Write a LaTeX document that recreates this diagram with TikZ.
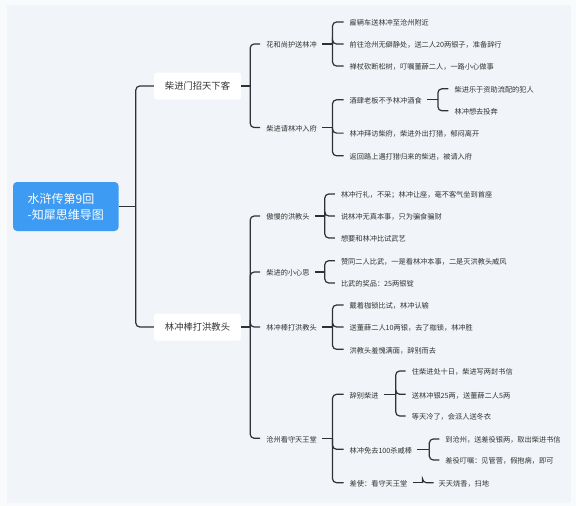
\documentclass[tikz,border=0pt]{standalone}
\usepackage{fontspec}
\setmainfont{Noto Sans CJK SC}
\usetikzlibrary{calc}
\definecolor{bgout}{HTML}{F9FAFC}
\definecolor{bgin}{HTML}{F1F4F8}
\definecolor{rootblue}{HTML}{3D9BF3}
\definecolor{ink}{HTML}{333333}
\definecolor{wire}{HTML}{2E3236}
\tikzset{
  conn/.style={draw=wire, line width=1.2pt, rounded corners=4pt},
  rootbox/.style={fill=rootblue, rounded corners=4pt, text=white, align=left,
    font=\fontsize{12}{16}\selectfont, minimum width=105.6pt, minimum height=49pt, inner sep=0pt},
  topicbox/.style={fill=white, rounded corners=2.5pt, text=ink,
    font=\fontsize{9.3}{11}\selectfont, minimum width=87pt, minimum height=27pt, inner sep=0pt,
    text height=0.88em, text depth=0.12em},
  leaf/.style={anchor=west, inner sep=0pt, text=ink, font=\fontsize{7.2}{9}\selectfont,
    text height=0.88em, text depth=0.12em}
}
\newcommand\mmbranch[5]{%
  \draw[conn] ([xshift=#2]#1.east) -- ([xshift=#3]#1.east);
  \foreach \c in {#5} {\draw[conn] ([xshift=#3]#1.east) |- ([xshift=-#4]\c.west);}
}
\begin{document}
\begin{tikzpicture}[x=1pt,y=-1pt]
\fill[bgout] (0,0) rectangle (576,506);
\fill[bgin] (7,5) rectangle (571,503);
\useasboundingbox (0,0) rectangle (576,506);

% root
\node[rootbox] (root) at (65.8,206.5) {水浒传第9回\\-知犀思维导图};

% level 1
\node[topicbox] (A) at (197.5,86) {柴进门招天下客};
\node[topicbox] (B) at (197.5,327) {林冲棒打洪教头};

% level 2
\node[leaf] (a1) at ($(A.east)+(25,-42)$) {花和尚护送林冲};
\node[leaf] (a2) at ($(A.east)+(25,41.5)$) {柴进请林冲入府};

\node[leaf] (b1) at ($(B.east)+(25,-111)$) {傲慢的洪教头};
\node[leaf] (b2) at ($(B.east)+(25,-55)$) {柴进的小心思};
\node[leaf] (b3) at ($(B.east)+(25,0)$) {林冲棒打洪教头};
\node[leaf] (b4) at ($(B.east)+(25,111.3)$) {沧州看守天王堂};

% leaves of a1
\node[leaf] (a11) at ($(a1.east)+(32.5,-22)$) {雇辆车送林冲至沧州附近};
\node[leaf] (a12) at ($(a1.east)+(32.5,0)$) {前往沧州无僻静处，送二人20两银子，准备辞行};
\node[leaf] (a13) at ($(a1.east)+(32.5,22)$) {禅杖砍断松树，叮嘱董薛二人，一路小心做事};

% leaves of a2
\node[leaf] (a21) at ($(a2.east)+(32.5,-27.7)$) {酒肆老板不予林冲酒食};
\node[leaf] (a22) at ($(a2.east)+(32.5,5.6)$) {林冲拜访柴府，柴进外出打猎，郁闷离开};
\node[leaf] (a23) at ($(a2.east)+(32.5,28.3)$) {返回路上遇打猎归来的柴进，被请入府};
\node[leaf] (a211) at ($(a21.east)+(32.5,-11)$) {柴进乐于资助流配的犯人};
\node[leaf] (a212) at ($(a21.east)+(32.5,11)$) {林冲想去投奔};

% leaves of b1
\node[leaf] (b11) at ($(b1.east)+(31,-22)$) {林冲行礼，不采；林冲让座，毫不客气坐到首座};
\node[leaf] (b12) at ($(b1.east)+(31,0)$) {说林冲无真本事，只为骗食骗财};
\node[leaf] (b13) at ($(b1.east)+(31,22)$) {想要和林冲比试武艺};

% leaves of b2
\node[leaf] (b21) at ($(b2.east)+(31,-11.3)$) {赞同二人比武，一是看林冲本事，二是灭洪教头威风};
\node[leaf] (b22) at ($(b2.east)+(31,11)$) {比武的奖品：25两银锭};

% leaves of b3
\node[leaf] (b31) at ($(b3.east)+(32.5,-22)$) {戴着枷锁比试，林冲认输};
\node[leaf] (b32) at ($(b3.east)+(32.5,0)$) {送董薛二人10两银，去了枷锁，林冲胜};
\node[leaf] (b33) at ($(b3.east)+(32.5,22.3)$) {洪教头羞愧满面，辞别而去};

% children of b4
\node[leaf] (b41) at ($(b4.east)+(32.5,-44)$) {辞别柴进};
\node[leaf] (b42) at ($(b4.east)+(32.5,11)$) {林冲免去100杀威棒};
\node[leaf] (b43) at ($(b4.east)+(32.5,44.4)$) {差使：看守天王堂};

\node[leaf] (b411) at ($(b41.east)+(33,-23.3)$) {住柴进处十日，柴进写两封书信};
\node[leaf] (b412) at ($(b41.east)+(33,0)$) {送林冲银25两，送董薛二人5两};
\node[leaf] (b413) at ($(b41.east)+(33,21.7)$) {等天冷了，会派人送冬衣};

\node[leaf] (b421) at ($(b42.east)+(33,-10.3)$) {到沧州，送差役银两，取出柴进书信};
\node[leaf] (b422) at ($(b42.east)+(33,10.7)$) {差役叮嘱：见管营，假抱病，即可};

\node[leaf] (b431) at ($(b43.east)+(31,0)$) {天天烧香，扫地};

% connectors
\mmbranch{root}{0pt}{17pt}{0pt}{A,B}
\mmbranch{A}{0pt}{9pt}{6pt}{a1,a2}
\mmbranch{B}{0pt}{9pt}{6pt}{b1,b2,b3,b4}
\mmbranch{a1}{5pt}{15.5pt}{6pt}{a11,a12,a13}
\mmbranch{a2}{5pt}{15.5pt}{6pt}{a21,a22,a23}
\mmbranch{a21}{5pt}{16pt}{6pt}{a211,a212}
\mmbranch{b1}{5pt}{15pt}{6pt}{b11,b12,b13}
\mmbranch{b2}{5pt}{15pt}{6pt}{b21,b22}
\mmbranch{b3}{5pt}{15.5pt}{6pt}{b31,b32,b33}
\mmbranch{b4}{5pt}{15.5pt}{6pt}{b41,b42,b43}
\mmbranch{b41}{5pt}{17pt}{6pt}{b411,b412,b413}
\mmbranch{b42}{5pt}{17pt}{6pt}{b421,b422}
\mmbranch{b43}{5pt}{15pt}{5pt}{b431}
\end{tikzpicture}
\end{document}
